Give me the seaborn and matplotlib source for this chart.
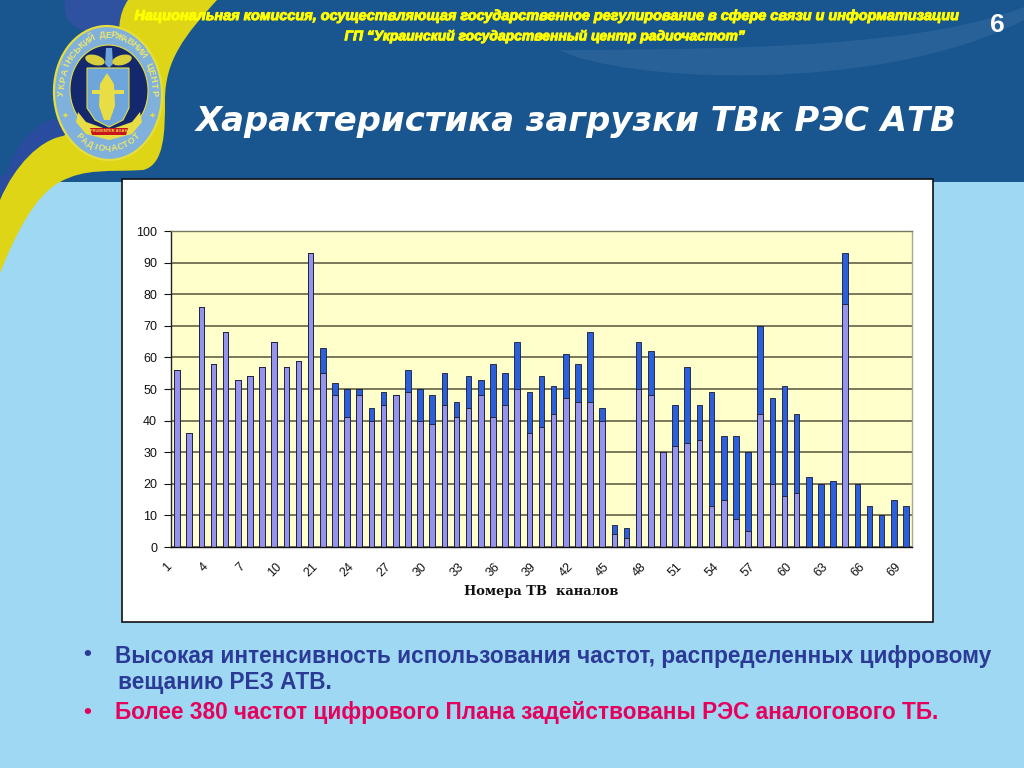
import math
import matplotlib
matplotlib.use("Agg")
import matplotlib.pyplot as plt
import matplotlib.patheffects as pe
from matplotlib.patches import Ellipse, PathPatch, Rectangle, Polygon
from matplotlib.path import Path
from matplotlib.transforms import ScaledTranslation
import pandas as pd
import seaborn as sns

channels = [str(c) for c in list(range(1, 13)) + list(range(21, 70))]
lower_values = [56, 36, 76, 58, 68, 53, 54, 57, 65, 57, 59, 93,
                55, 48, 41, 48, 40, 45, 48, 49, 40, 39, 45, 41, 44, 48, 41, 45, 50, 36,
                38, 42, 47, 46, 46, 40, 4, 3, 50, 48, 30, 32, 33, 34, 13, 15, 9, 5, 42,
                20, 16, 17, 0, 0, 0, 77, 0, 0, 0, 0, 0]
total_values = [56, 36, 76, 58, 68, 53, 54, 57, 65, 57, 59, 93,
                63, 52, 50, 50, 44, 49, 48, 56, 50, 48, 55, 46, 54, 53, 58, 55, 65, 49,
                54, 51, 61, 58, 68, 44, 7, 6, 65, 62, 30, 45, 57, 45, 49, 35, 35, 30, 70,
                47, 51, 42, 22, 20, 21, 93, 20, 13, 10, 15, 13]
y_ticks = list(range(0, 101, 10))
header_lines = ["Национальная комиссия, осуществляющая государственное регулирование в сфере связи и информатизации",
                "ГП “Украинский государственный центр радиочастот”"]
title_text = "Характеристика загрузки ТВк РЭС АТВ"
bullet_one = ["Высокая интенсивность использования частот, распределенных цифровому", "вещанию РЕЗ АТВ."]
bullet_two = "Более 380 частот цифрового Плана задействованы РЭС аналогового ТБ."
x_title = "Номера ТВ  каналов"
slide_number = "6"
seal_top = "УКРАЇНСЬКИЙ ДЕРЖАВНИЙ ЦЕНТР"
seal_bottom = "РАДІОЧАСТОТ"

W, H = 1024, 768
sns.set_theme(style="white")
plt.rcParams["font.family"] = ["Liberation Sans", "DejaVu Sans"]
fig = plt.figure(figsize=(W / 100, H / 100), dpi=100, facecolor="#9FD8F3")

bg = fig.add_axes([0, 0, 1, 1], zorder=0)
bg.set_xlim(0, W)
bg.set_ylim(H, 0)
bg.axis("off")

def curve(points, **kw):
    verts, codes = [points[0]], [Path.MOVETO]
    for p in points[1:]:
        verts.append(p)
        codes.append(Path.CURVE4)
    verts.append(points[0])
    codes.append(Path.CLOSEPOLY)
    bg.add_patch(PathPatch(Path(verts, codes), lw=0, **kw))

bg.add_patch(Rectangle((0, 0), W, 182, color="#19558F", lw=0))
bg.add_patch(Polygon([(0, 175), (20, 175), (15, 205), (0, 205)], color="#2A4C9E", lw=0))
# side ribbons of the header
curve([(65, 0), (60, 30), (90, 40), (130, 25), (130, 18), (130, 8), (130, 0), (100, 0), (80, 0)], color="#2F52A0")
curve([(0, 200), (5, 160), (25, 130), (50, 120), (70, 118), (75, 125), (63, 136), (40, 140), (15, 165)], color="#2A4C9E")
# pale wave top right
curve([(1024, 7), (940, 40), (800, 50), (560, 50),
       (620, 82), (880, 95), (1024, 20)], color="#3E74A8", alpha=0.4)
# yellow ribbon
curve([(128, 0), (118, 15), (118, 30), (120, 60),
       (100, 120), (85, 125), (63, 136),
       (40, 140), (15, 165), (0, 200),
       (0, 225), (0, 250), (0, 273),
       (15, 235), (35, 195), (60, 182),
       (85, 168), (110, 172), (143, 170),
       (165, 165), (165, 130), (165, 100),
       (165, 60), (185, 35), (217, 0),
       (190, 0), (160, 0), (128, 0)], color="#DDD516")

# seal
bg.add_patch(Ellipse((108, 93), 108, 134, angle=-3, fc="#7FB1DC", ec="#E6DE3C", lw=1.6))
bg.add_patch(Ellipse((109, 90), 78, 90, angle=-3, fc="#14286E", ec="#E6DE3C", lw=0.8))
bg.add_patch(Polygon([(87, 68), (129, 68), (129, 108), (123, 120), (109, 127), (95, 120), (87, 108)],
                     fc="#6EA5DA", ec="#E6DE3C", lw=0.8))
bg.add_patch(Polygon([(107, 73), (114, 84), (115, 106), (110, 120), (104, 120), (99, 106), (100, 84)],
                     fc="#E8DD45", lw=0))
bg.add_patch(Polygon([(92, 90), (124, 90), (124, 94), (92, 94)], fc="#E8DD45", lw=0))
bg.add_patch(Polygon([(106, 48), (112, 48), (113, 64), (109, 68), (105, 64)], fc="#6EA5DA", lw=0))
bg.add_patch(Ellipse((95, 60), 20, 10, angle=15, fc="#D9CF3C", lw=0))
bg.add_patch(Ellipse((122, 60), 20, 10, angle=-15, fc="#D9CF3C", lw=0))
bg.add_patch(Polygon([(78, 112), (86, 122), (109, 130), (132, 122), (140, 112), (142, 122), (132, 134),
                      (109, 140), (86, 134), (76, 122)], fc="#E8DD45", lw=0))
bg.add_patch(Polygon([(90, 128), (128, 128), (126, 135), (92, 135)], fc="#C8141E", lw=0))
bg.text(109, 131.5, "PRUDENTER AGAS", fontsize=2.9, weight="bold", color="#F4E24A", ha="center", va="center")
bg.text(65, 115, "✦", fontsize=6, color="#E6DE3C", ha="center", va="center", family="DejaVu Sans")
bg.text(152, 115, "✦", fontsize=6, color="#E6DE3C", ha="center", va="center", family="DejaVu Sans")

def arc(text, start, stop, a, b, clockwise, size):
    n = len(text)
    for i, ch in enumerate(text):
        t = math.radians(start + (stop - start) * i / (n - 1))
        x, y = 108 + a * math.cos(t), 93 - b * math.sin(t)
        dx, dy = (a * math.sin(t), -b * math.cos(t)) if clockwise else (-a * math.sin(t), b * math.cos(t))
        bg.text(x, y, ch, fontsize=size, weight="bold", color="#EDE56A", ha="center", va="center",
                rotation=math.degrees(math.atan2(dy, dx)), rotation_mode="anchor")

arc(seal_top, 180, 0, 46, 58, True, 6.6)
arc(seal_bottom, 230, 310, 45, 56, False, 6.2)

# header texts
stroke = [pe.withStroke(linewidth=0.7, foreground="#FFFF00")]
bg.text(544, 16, header_lines[0], fontsize=10.4, style="italic", weight="bold",
        color="#FFFF00", ha="center", va="center", path_effects=stroke)
bg.text(545, 36, header_lines[1], fontsize=10.0, style="italic", weight="bold",
        color="#FFFF00", ha="center", va="center", path_effects=stroke)
bg.text(997, 25, slide_number, fontsize=19, weight="bold", color="white", ha="center", va="center")
bg.text(576, 122, title_text, fontsize=24.4, family="DejaVu Sans", style="italic", weight="bold",
        color="white", ha="center", va="center")

# chart frame
bg.add_patch(Rectangle((122, 179), 811, 443, fc="white", ec="#111111", lw=1.2))

# bullets
navy, pink = "#2B3A96", "#E6005C"
bg.text(87, 655, "•", fontsize=16, weight="bold", color=navy, ha="center", va="center")
bg.text(115, 657, bullet_one[0], fontsize=16.3, weight="bold", color=navy, ha="left", va="center")
bg.text(118, 683, bullet_one[1], fontsize=16.3, weight="bold", color=navy, ha="left", va="center")
bg.text(87, 712, "•", fontsize=16, weight="bold", color=pink, ha="center", va="center")
bg.text(115, 713, bullet_two, fontsize=16.3, weight="bold", color=pink, ha="left", va="center")

# chart
ax = fig.add_axes([171 / W, 1 - 547 / H, 741 / W, 316 / H], zorder=2)
ax.set_facecolor("#FFFFCC")
df = pd.DataFrame({"channel": channels, "lower": lower_values, "total": total_values})
bar_kw = dict(order=channels, saturation=1, width=0.46, edgecolor="#181830", linewidth=0.6, ax=ax)
sns.barplot(data=df, x="channel", y="total", color="#2C5FDC", **bar_kw)
sns.barplot(data=df, x="channel", y="lower", color="#9494EE", **bar_kw)
ax.set_xlim(-0.5, len(channels) - 0.5)
ax.set_ylim(0, 100)
ax.set_axisbelow(True)
ax.yaxis.grid(True, color="#6E6E50", lw=1.3)
ax.xaxis.grid(False)
ax.set_yticks(y_ticks)
ax.set_xticks(range(0, len(channels), 3), channels[::3], rotation=45, ha="right", rotation_mode="anchor")
ax.set_xticks([i - 0.5 for i in range(len(channels) + 1)], minor=True)
ax.tick_params(axis="x", which="major", length=0, pad=10, labelsize=9, colors="#111111")
ax.tick_params(axis="x", which="minor", length=4, width=0.8, color="#111111")
ax.tick_params(axis="y", length=5, width=0.8, color="#111111", labelsize=9, labelcolor="#111111", pad=5, left=True)
shift = ScaledTranslation(-11 / 100, 0, fig.dpi_scale_trans)
for label in ax.get_xticklabels():
    label.set_transform(label.get_transform() + shift)
ax.set_xlabel("")
ax.set_ylabel("")
for side, col in dict(left="#222222", bottom="#111111", top="#7A7A60", right="#A8A890").items():
    ax.spines[side].set_color(col)
    ax.spines[side].set_linewidth(1.0)
bg.text(541, 591, x_title, fontsize=9.4, family="DejaVu Serif", weight="bold", color="#111111",
        ha="center", va="center", zorder=5)

fig.savefig("out.png", dpi=100, facecolor=fig.get_facecolor())
